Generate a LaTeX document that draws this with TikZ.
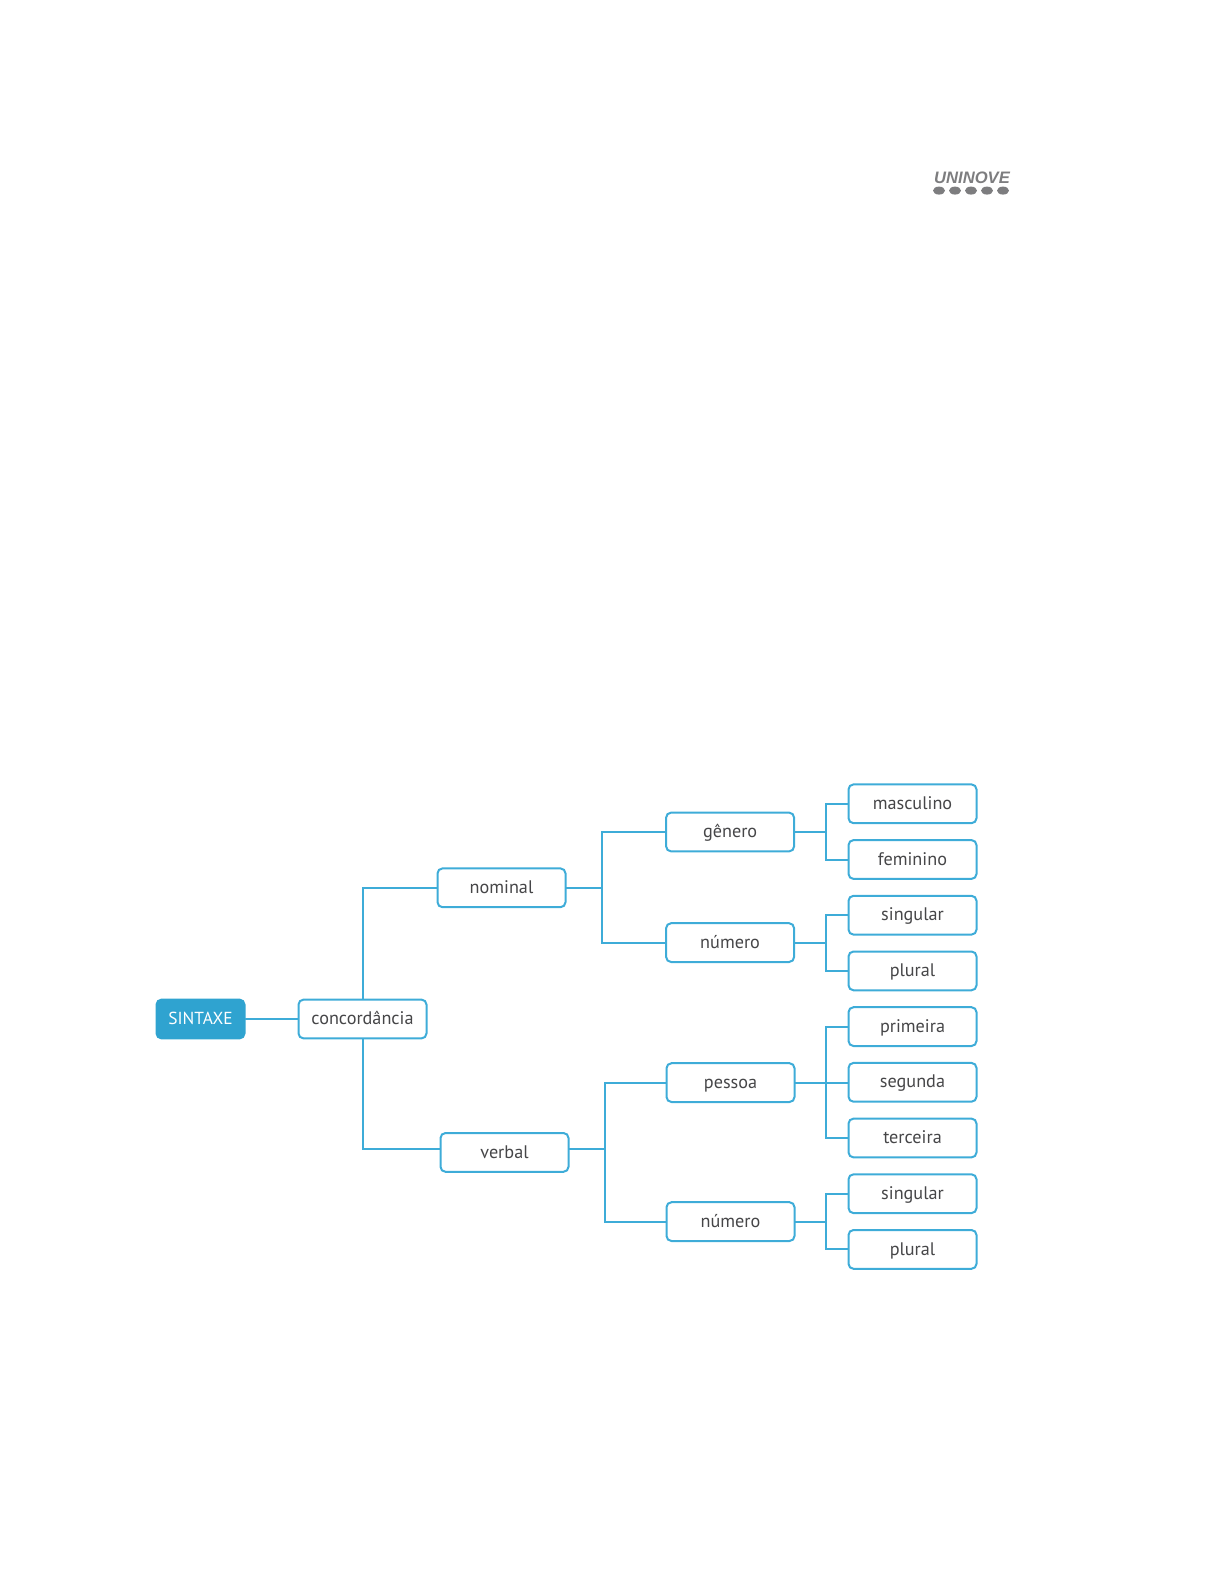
\documentclass[tikz,border=0pt]{standalone}
\usepackage{fontspec}
\setmainfont{PT Sans}
\newfontfamily\logofont{Liberation Sans}
\usetikzlibrary{positioning, shapes.geometric}
\definecolor{SyntaxBlue}{RGB}{47, 163, 208}
\definecolor{LineBlue}{RGB}{62, 172, 216}
\definecolor{TextGray}{RGB}{70, 70, 72}
\definecolor{LogoGray}{RGB}{125, 125, 127}
\tikzset{
  termbox/.style={draw=LineBlue, fill=white, line width=1pt, rounded corners=2.5pt, minimum width=64pt, minimum height=19.4pt, inner sep=0pt, outer sep=0pt, text=TextGray, font=\fontsize{9.1}{11}\selectfont, text height=7.6pt, text depth=2pt},
  rootbox/.style={termbox, fill=SyntaxBlue, draw=SyntaxBlue, text=white, minimum width=44pt, font=\fontsize{8.7}{11}\selectfont},
  link/.style={draw=LineBlue, line width=1pt}
}
\begin{document}
\begin{tikzpicture}
  \useasboundingbox (0,0) rectangle (612pt,-791pt);

  % Nodes
  \node[rootbox] (sintaxe) at (100.25pt,-509.5pt) {SINTAXE};
  \node[termbox, right=27pt of sintaxe] (concordancia) {concordância};

  \node[termbox, above right=46.2pt and 5.5pt of concordancia] (nominal) {nominal};
  \node[termbox, below right=47.3pt and 7pt of concordancia] (verbal) {verbal};

  \node[termbox, above right=8.5pt and 50.3pt of nominal] (genero) {gênero};
  \node[termbox, below right=8pt and 50.3pt of nominal] (numeroA) {número};
  \node[termbox, above right=15.5pt and 49pt of verbal] (pessoa) {pessoa};
  \node[termbox, below right=15.2pt and 49pt of verbal] (numeroB) {número};

  \node[termbox, right=27.2pt of genero, yshift=14.1pt] (masculino) {masculino};
  \node[termbox, below=8.45pt of masculino] (feminino) {feminino};
  \node[termbox, below=8.45pt of feminino] (singularA) {singular};
  \node[termbox, below=8.45pt of singularA] (pluralA) {plural};
  \node[termbox, below=8.45pt of pluralA] (primeira) {primeira};
  \node[termbox, below=8.45pt of primeira] (segunda) {segunda};
  \node[termbox, below=8.45pt of segunda] (terceira) {terceira};
  \node[termbox, below=8.45pt of terceira] (singularB) {singular};
  \node[termbox, below=8.45pt of singularB] (pluralB) {plural};

  % Bus coordinates
  \coordinate[right=18pt of nominal] (busN);
  \coordinate[right=18pt of verbal, yshift=1.5pt] (busV);
  \coordinate[right=15.8pt of genero] (busG);
  \coordinate[right=15.8pt of numeroA] (busA);
  \coordinate[right=15.8pt of pessoa] (busP);
  \coordinate[right=15.8pt of numeroB] (busB);

  % Connectors
  \draw[link] (sintaxe) -- (concordancia);
  \draw[link] (concordancia.north) |- (nominal.west);
  \draw[link] (concordancia.south) |- ([yshift=1.5pt]verbal.west);
  \draw[link] (nominal) -- (busN);
  \draw[link] (verbal.east |- busV) -- (busV);
  \draw[link] (busN) |- (genero.west);
  \draw[link] (busN) |- (numeroA.west);
  \draw[link] (busV) |- (pessoa.west);
  \draw[link] (busV) |- (numeroB.west);
  \draw[link] (genero) -- (busG);
  \draw[link] (numeroA) -- (busA);
  \draw[link] (pessoa.east) -- (pessoa.east -| segunda.west);
  \draw[link] (numeroB) -- (busB);
  \draw[link] (busG) |- (masculino.west);
  \draw[link] (busG) |- (feminino.west);
  \draw[link] (busA) |- (singularA.west);
  \draw[link] (busA) |- (pluralA.west);
  \draw[link] (busP) |- (primeira.west);
  \draw[link] (busP) |- (terceira.west);
  \draw[link] (busB) |- (singularB.west);
  \draw[link] (busB) |- (pluralB.west);

  % Logo
  \node[inner sep=0pt, text=LogoGray, font=\logofont\bfseries\itshape\fontsize{8.3}{10}\selectfont] (uninove) at (486pt,-89pt) {UNINOVE};
  \foreach \i in {0,...,4}
    \node[draw=none, fill=LogoGray, ellipse, minimum width=6pt, minimum height=4pt, inner sep=0pt] (dot\i) at (469.5pt+\i*8pt,-95.3pt) {};
\end{tikzpicture}
\end{document}
